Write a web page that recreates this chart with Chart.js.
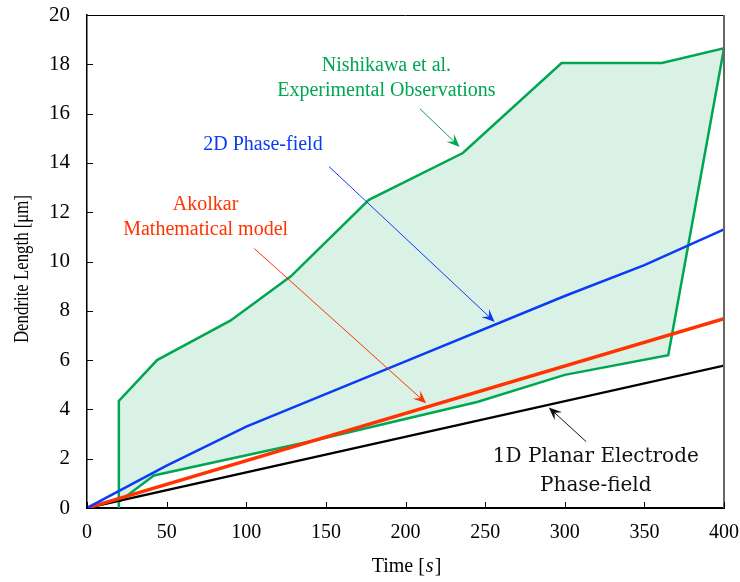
<!DOCTYPE html>
<html>
<head>
<meta charset="utf-8">
<script src="https://cdn.jsdelivr.net/npm/chart.js@4.4.0/dist/chart.umd.min.js"></script>
<style>
  html, body { margin: 0; padding: 0; background: #fff; }
  #wrap { width: 740px; height: 582px; }
</style>
</head>
<body>
<div id="wrap"><canvas id="dendriteChart" width="740" height="582"></canvas></div>
<script>
// axis ticks
const xTicks = [0, 50, 100, 150, 200, 250, 300, 350, 400];
const yTicks = [0, 2, 4, 6, 8, 10, 12, 14, 16, 18, 20];

// 1D planar electrode phase-field
const time1D = [0, 400];
const length1D = [0, 5.78];

// Akolkar mathematical model
const timeAkolkar = [0, 400];
const lengthAkolkar = [0, 7.68];

// 2D phase-field
const time2D = [0, 50, 100, 200, 300, 350, 400];
const length2D = [0, 1.72, 3.3, 5.95, 8.6, 9.85, 11.3];

// Nishikawa et al. experimental band (upper edge then lower edge, closed)
const timeExp = [20, 20, 44, 90, 128, 177, 236, 298, 361, 400, 365, 300, 245, 140, 90, 42, 20, 20];
const lengthExp = [0, 4.34, 6.0, 7.6, 9.4, 12.5, 14.4, 18.05, 18.05, 18.65, 6.2, 5.4, 4.3, 2.7, 2.0, 1.32, 0.25, 0];

const GREEN = '#00a651';
const BLUE = '#0a3cf5';
const RED = '#ff3300';
const SERIF = '"Liberation Serif", "Times New Roman", Times, serif';

// callouts: text centre and arrow, in data units
const notes = [
    { lines: ['Nishikawa et al.', 'Experimental Observations'], color: GREEN, font: '20px ' + SERIF,
      at: [188, 17.95], lead: 25, from: [209, 16.2], to: [234, 14.65] },
    { lines: ['2D Phase-field'], color: BLUE, font: '20px ' + SERIF,
      at: [110.5, 14.75], lead: 25, from: [152, 13.85], to: [256, 7.55] },
    { lines: ['Akolkar', 'Mathematical model'], color: RED, font: '20px ' + SERIF,
      at: [74.5, 12.3], lead: 25, from: [105, 10.53], to: [213, 4.25] },
    { lines: ['1D Planar Electrode', 'Phase-field'], color: '#111', font: '20px "DejaVu Serif", serif',
      at: [319.5, 2.07], lead: 29, from: [313.5, 2.69], to: [290, 4.08] }
];

Chart.defaults.font.family = SERIF;
Chart.defaults.font.size = 20;
Chart.defaults.color = '#000';

function toPts(xs, ys) {
    return xs.map((v, i) => ({ x: v, y: ys[i] }));
}

function arrow(ctx, x1, y1, x2, y2, color) {
    const ang = Math.atan2(y2 - y1, x2 - x1);
    ctx.strokeStyle = color;
    ctx.fillStyle = color;
    ctx.lineWidth = 1;
    ctx.beginPath();
    ctx.moveTo(x1, y1);
    ctx.lineTo(x2 - 4 * Math.cos(ang), y2 - 4 * Math.sin(ang));
    ctx.stroke();
    const len = 13, wid = 5.5;
    ctx.save();
    ctx.translate(x2, y2);
    ctx.rotate(ang);
    ctx.beginPath();
    ctx.moveTo(0, 0);
    ctx.lineTo(-len, -wid);
    ctx.lineTo(-len * 0.6, 0);
    ctx.lineTo(-len, wid);
    ctx.closePath();
    ctx.fill();
    ctx.restore();
}

const overlay = {
    id: 'overlay',
    afterDraw(chart) {
        const { ctx, chartArea: a, scales: { x, y } } = chart;
        ctx.save();

        // frame top and right
        ctx.strokeStyle = '#000';
        ctx.lineWidth = 1;
        ctx.beginPath();
        ctx.moveTo(a.left, a.top + 0.5);
        ctx.lineTo(a.right, a.top + 0.5);
        ctx.stroke();
        ctx.strokeStyle = '#666';
        ctx.lineWidth = 2;
        ctx.beginPath();
        ctx.moveTo(a.right, a.top);
        ctx.lineTo(a.right, a.bottom);
        ctx.stroke();

        // inward ticks
        ctx.strokeStyle = '#000';
        ctx.lineWidth = 1;
        xTicks.forEach(v => {
            const px = Math.round(x.getPixelForValue(v)) + 0.5;
            ctx.beginPath();
            ctx.moveTo(px, a.bottom);
            ctx.lineTo(px, a.bottom - 6);
            ctx.stroke();
        });
        yTicks.forEach(v => {
            const py = Math.round(y.getPixelForValue(v)) + 0.5;
            ctx.beginPath();
            ctx.moveTo(a.left, py);
            ctx.lineTo(a.left + 6, py);
            ctx.stroke();
        });

        // callouts
        ctx.textAlign = 'center';
        ctx.textBaseline = 'middle';
        notes.forEach(n => {
            ctx.font = n.font;
            ctx.fillStyle = n.color;
            const cx = x.getPixelForValue(n.at[0]);
            const cy = y.getPixelForValue(n.at[1]);
            n.lines.forEach((t, i) => ctx.fillText(t, cx, cy + i * n.lead));
            arrow(ctx, x.getPixelForValue(n.from[0]), y.getPixelForValue(n.from[1]),
                  x.getPixelForValue(n.to[0]), y.getPixelForValue(n.to[1]), n.color);
        });

        // axis titles
        ctx.fillStyle = '#000';
        ctx.textAlign = 'left';
        const p1 = 'Time [', p3 = ']';
        ctx.font = '20px ' + SERIF;
        const w1 = ctx.measureText(p1).width, w3 = ctx.measureText(p3).width;
        ctx.font = 'italic 20px ' + SERIF;
        const w2 = ctx.measureText('s').width;
        const tx = (a.left + a.right) / 2 - (w1 + w2 + w3) / 2;
        const ty = 567;
        ctx.font = '20px ' + SERIF;
        ctx.fillText(p1, tx, ty);
        ctx.font = 'italic 20px ' + SERIF;
        ctx.fillText('s', tx + w1 + 1, ty);
        ctx.font = '20px ' + SERIF;
        ctx.fillText(p3, tx + w1 + w2 + 2, ty);

        ctx.save();
        ctx.translate(22, 269);
        ctx.rotate(-Math.PI / 2);
        ctx.scale(0.8, 1);
        ctx.textAlign = 'center';
        ctx.font = '21px ' + SERIF;
        ctx.fillText('Dendrite Length [\u03bcm]', 0, 0);
        ctx.restore();

        ctx.restore();
    }
};

new Chart(document.getElementById('dendriteChart'), {
    type: 'line',
    data: {
        datasets: [
            { label: '2D Phase-field', data: toPts(time2D, length2D), borderColor: BLUE, borderWidth: 2.5 },
            { label: 'Akolkar', data: toPts(timeAkolkar, lengthAkolkar), borderColor: RED, borderWidth: 3.5 },
            { label: '1D Planar Electrode', data: toPts(time1D, length1D), borderColor: '#000', borderWidth: 2.3 },
            { label: 'Nishikawa et al.', data: toPts(timeExp, lengthExp), borderColor: GREEN, borderWidth: 2.5,
              fill: 'shape', backgroundColor: 'rgba(0, 166, 81, 0.15)' }
        ]
    },
    options: {
        responsive: false,
        animation: false,
        events: [],
        layout: { padding: { top: 15, right: 16, left: 0, bottom: 0 } },
        elements: { point: { radius: 0 }, line: { tension: 0 } },
        plugins: { legend: { display: false }, tooltip: { enabled: false } },
        scales: {
            x: {
                type: 'linear', min: 0, max: 400,
                afterBuildTicks: s => { s.ticks = xTicks.map(v => ({ value: v })); },
                ticks: { font: { family: SERIF, size: 20 }, color: '#000', padding: 13, maxRotation: 0 },
                grid: { display: false, drawTicks: false },
                border: { display: true, color: '#000', width: 2 },
                afterFit: s => { s.height = 74; s.paddingLeft = 0; s.paddingRight = 0; }
            },
            y: {
                min: 0, max: 20,
                afterBuildTicks: s => { s.ticks = yTicks.map(v => ({ value: v })); },
                ticks: { font: { family: SERIF, size: 21 }, color: '#000', padding: 17 },
                grid: { display: false, drawTicks: false },
                border: { display: true, color: '#000', width: 1.5 },
                afterFit: s => { s.width = 87; s.paddingTop = 0; s.paddingBottom = 0; }
            }
        }
    },
    plugins: [overlay]
});
</script>
</body>
</html>
